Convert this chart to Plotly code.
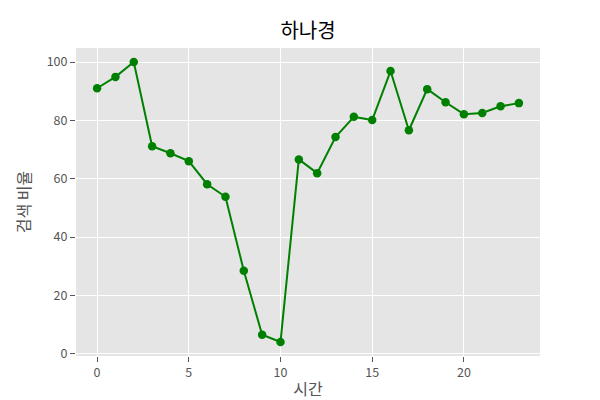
import plotly.graph_objects as go

hours = list(range(24))
ratio = [91.0, 94.9, 100.0, 71.1, 68.7, 66.0, 58.1, 53.8, 28.4, 6.5, 4.0, 66.6,
         61.9, 74.3, 81.2, 80.1, 96.9, 76.6, 90.7, 86.2, 82.1, 82.5, 84.8, 85.9]
title = "하나경"
xlabel = "시간"
ylabel = "검색 비율"

font = "Noto Sans CJK KR, Noto Sans, sans-serif"
fig = go.Figure(go.Scatter(
    x=hours, y=ratio, mode="lines+markers",
    line=dict(color="#008000", width=2),
    marker=dict(color="#008000", size=8.5),
))
lo, hi = min(ratio), max(ratio)
pad = (hi - lo) * 0.05
# page body has an 8px margin; figure sized to fill the rest of the 600x400 window
fig.update_layout(
    width=592, height=392,
    margin=dict(l=68, r=60, t=40, b=44),
    paper_bgcolor="white", plot_bgcolor="#E5E5E5",
    font=dict(family=font, color="#555555", size=13),
    showlegend=False,
    title=dict(text=title, x=0.5, xanchor="center", xref="paper",
               y=1 - 22.5 / 392, yanchor="middle",
               font=dict(size=20, color="#000000", family=font)),
)
fig.update_xaxes(range=[-1.15, 24.15], tickvals=[0, 5, 10, 15, 20],
                 showgrid=True, gridcolor="white", gridwidth=1, zeroline=False,
                 ticks="outside", ticklen=5, tickcolor="#555555", automargin=False,
                 tickfont=dict(size=12.5, color="#555555"),
                 title=dict(text=xlabel, font=dict(size=16, color="#555555"), standoff=4))
fig.update_yaxes(range=[lo - pad, hi + pad], tickvals=[0, 20, 40, 60, 80, 100],
                 showgrid=True, gridcolor="white", gridwidth=1, zeroline=False,
                 ticks="outside", ticklen=5, tickcolor="#555555", automargin=False,
                 tickfont=dict(size=12.5, color="#555555"),
                 title=dict(text=ylabel, font=dict(size=16, color="#555555"), standoff=12))
fig.write_html("out.html")
